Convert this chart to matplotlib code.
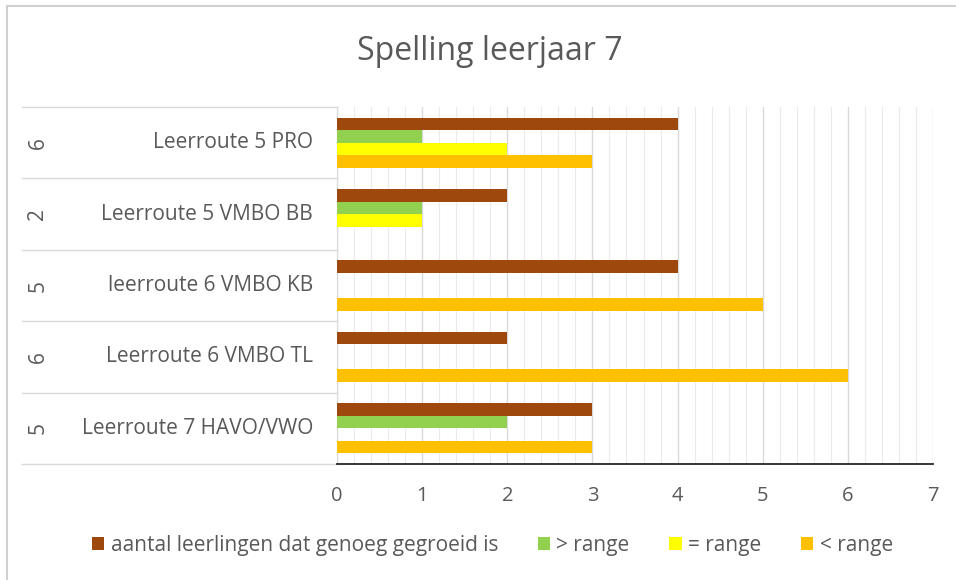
import numpy as np
import matplotlib
matplotlib.use("Agg")
from matplotlib import pyplot as plt
from matplotlib.lines import Line2D
from matplotlib.ticker import MultipleLocator

plt.rcParams["font.family"] = ["Open Sans", "DejaVu Sans"]

TEXT_COLOR = "#595959"

categories = ["Leerroute 5 PRO", "Leerroute 5 VMBO BB", "leerroute 6 VMBO KB",
              "Leerroute 6 VMBO TL", "Leerroute 7 HAVO/VWO"]
group_counts = ["6", "2", "5", "6", "5"]

series_names = ["aantal leerlingen dat genoeg gegroeid is", "> range", "= range", "< range"]
series_colors = ["#9E480E", "#92D050", "#FFFF00", "#FFC000"]
grown = [4, 2, 4, 2, 3]
above_range = [1, 1, 0, 0, 2]
in_range = [2, 1, 0, 0, 0]
below_range = [3, 0, 5, 6, 3]

fig = plt.figure(figsize=(9.56, 5.8), dpi=100)
ax = fig.add_axes([337 / 956, 1 - 464 / 580, (933 - 337) / 956, (464 - 107) / 580])

y = np.arange(len(categories))
bar_h = 0.176
all_series = [grown, above_range, in_range, below_range]
for i, (vals, name, col) in enumerate(zip(all_series, series_names, series_colors)):
    offset = (i - 1.5) * bar_h
    ax.barh(y + offset, vals, height=bar_h, color=col, label=name, linewidth=0, zorder=3)

ax.set_xlim(0, 7)
ax.set_ylim(len(categories) - 0.5, -0.5)
ax.xaxis.set_major_locator(MultipleLocator(1))
ax.xaxis.set_minor_locator(MultipleLocator(0.2))
ax.grid(axis="x", which="major", color="#d9d9d9", linewidth=1.0, zorder=0)
ax.grid(axis="x", which="minor", color="#ebebeb", linewidth=0.8, zorder=0)
ax.set_axisbelow(True)

for side in ["top", "right"]:
    ax.spines[side].set_visible(False)
ax.spines["left"].set_color("#d9d9d9")
ax.spines["bottom"].set_color("#262626")
ax.spines["bottom"].set_linewidth(1.3)

ax.tick_params(axis="x", which="both", length=0, labelsize=14.5, labelcolor=TEXT_COLOR, pad=16)
ax.tick_params(axis="y", which="both", length=0)
ax.set_yticks([])

# two-level category axis on the left
trans = ax.get_yaxis_transform()
x_line = (22 - 337) / (933 - 337)
x_label = (313 - 337) / (933 - 337)
x_count = (38 - 337) / (933 - 337)
for b in np.arange(len(categories) + 1) - 0.5:
    ax.plot([x_line, 0], [b, b], transform=trans, color="#d9d9d9", linewidth=1.0, clip_on=False)
for yi, (cat, cnt) in enumerate(zip(categories, group_counts)):
    ax.text(x_label, yi, cat, transform=trans, ha="right", va="center",
            fontsize=15, color=TEXT_COLOR)
    ax.text(x_count, yi, cnt, transform=trans, ha="center", va="center",
            fontsize=15, color=TEXT_COLOR, rotation=90)

fig.text(0.512, 1 - 52 / 580, "Spelling leerjaar 7", ha="center", va="center",
         fontsize=23, color=TEXT_COLOR)

fig.legend(loc="center", bbox_to_anchor=(0.515, 1 - 545 / 580), ncol=4, frameon=False,
           fontsize=15, labelcolor=TEXT_COLOR, handlelength=0.6, handleheight=0.6,
           handletextpad=0.3, columnspacing=1.9)

# outer chart frame
fig.add_artist(Line2D([7 / 956, 1], [1 - 6 / 580, 1 - 6 / 580], color="#d0d0d0", linewidth=1.5))
fig.add_artist(Line2D([7 / 956, 7 / 956], [0, 1 - 6 / 580], color="#d0d0d0", linewidth=1.5))

fig.savefig("out.png", dpi=100)
